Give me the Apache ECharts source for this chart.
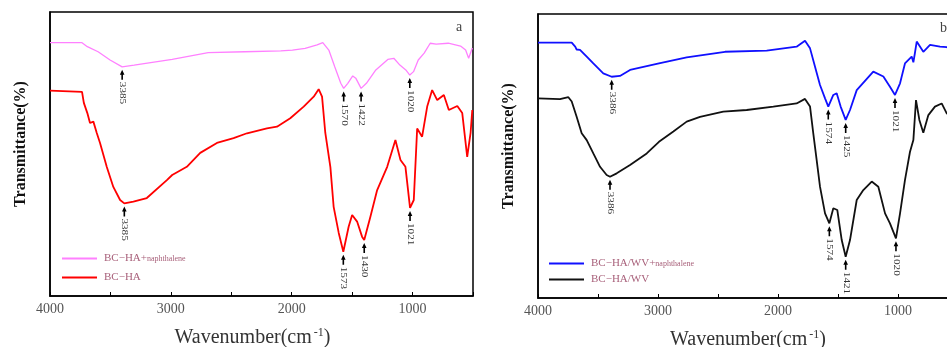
<!DOCTYPE html>
<html><head><meta charset="utf-8">
<script src="https://cdn.jsdelivr.net/npm/echarts@6/dist/echarts.min.js"></script>
<style>html,body{margin:0;padding:0;background:#fff}#c{width:947px;height:347px}</style>
</head><body><div id="c"></div>
<script>
const seriesNames = ['BC−HA+ naphthalene','BC−HA','BC−HA/WV+ naphthalene','BC−HA/WV'];
const xTickValues = [4000,3000,2000,1000];
const panelLetters = ['a','b'];

const pinkA = [[4000,89.2],[3735,89.2],[3724,89.4],[3691,87.8],[3602,86.0],[3503,83.1],[3403,80.7],[3304,81.3],[2989,83.3],[2691,85.7],[2390,86.0],[2091,86.3],[1994,86.6],[1889,87.2],[1790,88.4],[1743,89.2],[1693,86.6],[1644,80.7],[1594,74.9],[1570,73.1],[1536,74.9],[1495,77.5],[1470,76.7],[1426,73.1],[1382,74.9],[1304,79.6],[1205,83.3],[1155,83.7],[1105,81.3],[1056,79.6],[1023,77.8],[992,79.0],[953,83.1],[904,85.5],[854,89.0],[805,88.7],[705,89.0],[603,88.0],[561,86.6],[536,83.7],[506,87.3]];
const redA = [[4000,72.3],[3735,71.9],[3720,68],[3691,64.4],[3669,60.9],[3641,61.4],[3613,57.4],[3586,53.9],[3530,45.4],[3476,38.4],[3420,33.8],[3385,32.6],[3310,33.2],[3199,34.5],[3033,40.8],[2989,42.6],[2868,45.5],[2757,50.4],[2619,53.9],[2481,55.6],[2370,57.3],[2205,59.0],[2122,59.6],[2012,62.6],[1901,66.7],[1818,70.2],[1777,72.8],[1749,70.2],[1722,57.4],[1680,45.4],[1653,31.4],[1611,22.2],[1573,15.6],[1529,24.4],[1500,28.5],[1459,26.2],[1418,20.9],[1400,19.7],[1349,27.9],[1293,37.3],[1210,45.5],[1142,54.9],[1100,47.9],[1059,45.5],[1021,31],[990,33.8],[962,59],[921,56.1],[879,66.7],[838,72.5],[796,69],[741,70.8],[700,65.5],[630,66.9],[589,64.4],[548,49],[520,57.4],[506,65.5]];
const blueB = [[4000,89.9],[3719,89.9],[3690,88.5],[3678,87.5],[3650,87.4],[3594,85],[3539,82.6],[3456,79.1],[3386,77.9],[3317,78.2],[3233,80.3],[2992,82.6],[2761,84.7],[2442,86.7],[2094,87.1],[1845,88.5],[1775,90.6],[1733,87.9],[1692,81.5],[1650,75],[1608,70.3],[1581,67.4],[1539,71.5],[1511,72.1],[1478,67.4],[1436,62.7],[1400,66.2],[1344,73.2],[1206,79.7],[1122,78],[1067,74.4],[1025,71.5],[983,75.6],[942,82.6],[886,85],[872,83],[860,86],[844,90.3],[789,86.7],[733,89.1],[650,88.5],[594,88.3],[500,88]];
const blackB = [[4000,70.3],[3817,70],[3747,70.7],[3719,69.2],[3678,63.8],[3636,58],[3594,55.6],[3539,50.9],[3483,46.2],[3428,43.3],[3400,42.7],[3344,43.9],[3233,46.8],[3094,50.9],[2992,55],[2872,58.6],[2761,62.1],[2650,63.8],[2456,65.6],[2261,66.2],[2039,67.4],[1845,68.5],[1775,70.1],[1733,67.4],[1706,58],[1678,48.6],[1650,39.2],[1608,29.8],[1572,26.3],[1539,31.6],[1506,31],[1469,20.4],[1436,14.5],[1400,20.4],[1344,34.5],[1289,38],[1219,41],[1164,39.2],[1108,29.8],[1067,26.3],[1017,21],[983,29.8],[942,41.5],[900,51.5],[872,55.6],[850,69.7],[822,62.7],[789,58.2],[747,64.4],[692,67.4],[636,68.5],[594,65],[500,62]];

// peak annotations: [wavenumber, value, label]
const pinkPeaks = [[3403,80.7,'3385'],[1570,73.1,'1570'],[1426,73.1,'1422'],[1023,77.8,'1020']];
const redPeaks = [[3385,32.6,'3385'],[1573,15.6,'1573'],[1400,19.7,'1430'],[1021,31,'1021']];
const bluePeaks = [[3386,77.9,'3386'],[1581,67.4,'1574'],[1436,62.7,'1425'],[1025,71.5,'1021']];
const blackPeaks = [[3400,42.7,'3386'],[1572,26.3,'1574'],[1436,14.5,'1421'],[1017,21,'1020']];

const chart = echarts.init(document.getElementById('c'), null, {renderer:'canvas'});
const serif = 'Liberation Serif';
const legendText = '#a8607a';

function xAxisFor(i, namePad){
  return {
    gridIndex:i, type:'value', min:500, max:4000, interval:500, inverse:true,
    name:'Wavenumber(cm{sup|-1})', nameLocation:'middle', nameGap:31,
    nameTextStyle:{fontFamily:serif, fontSize:20, color:'#333', padding:namePad,
      rich:{sup:{fontFamily:serif, fontSize:12, verticalAlign:'top', padding:[0,0,10,2], color:'#333'}}},
    axisLine:{show:true, lineStyle:{color:'#000', width:1.5}},
    axisTick:{show:true, inside:true, length:4, lineStyle:{color:'#000', width:1}},
    axisLabel:{fontFamily:serif, fontSize:14, color:'#555', margin:6,
      formatter: v => xTickValues.indexOf(v) >= 0 ? String(v) : ''},
    splitLine:{show:false}
  };
}
function yAxisFor(i){
  return {
    gridIndex:i, type:'value', min:0, max:100,
    name:'Transmittance(%)', nameLocation:'middle', nameGap:21,
    nameTextStyle:{fontFamily:serif, fontSize:16, fontWeight:'bold', color:'#111', padding:[0,0,0,20]},
    axisLine:{show:true, lineStyle:{color:'#000', width:1.5}},
    axisTick:{show:false}, axisLabel:{show:false}, splitLine:{show:false}
  };
}
function legendFor(left, top, names, gap){
  return {
    left, top, orient:'vertical', itemWidth:35, itemHeight:10, itemGap:gap,
    data:names, icon:'path://M0,4L35,4L35,6L0,6Z',
    textStyle:{padding:[0,0,0,2], rich:{
      m:{fontFamily:serif, fontSize:11, color:legendText},
      s:{fontFamily:serif, fontSize:8, color:legendText}}},
    formatter: n => n.indexOf(' naphthalene') >= 0
      ? '{m|' + n.replace(' naphthalene','') + '}{s|naphthalene}'
      : '{m|' + n + '}'
  };
}
function lineSeries(name, data, color, width, idx){
  return {name, type:'line', data, xAxisIndex:idx, yAxisIndex:idx, showSymbol:false, symbol:'none',
    lineStyle:{color, width}, itemStyle:{color}, silent:true, animation:false};
}

chart.setOption({
  animation:false,
  backgroundColor:'#fff',
  grid:[
    {left:50, top:12, width:423, height:284, show:true, borderColor:'#000', borderWidth:1.5, containLabel:false, outerBoundsMode:'none'},
    {left:538, top:14, width:420, height:284, show:true, borderColor:'#000', borderWidth:1.5, containLabel:false, outerBoundsMode:'none'}
  ],
  xAxis:[xAxisFor(0, [0,18,0,0]), xAxisFor(1, [0,0,0,0])],
  yAxis:[yAxisFor(0), yAxisFor(1)],
  legend:[legendFor(57, 248, [seriesNames[0], seriesNames[1]], 8), legendFor(544, 253, [seriesNames[2], seriesNames[3]], 5)],
  series:[
    lineSeries(seriesNames[0], pinkA, '#ff80ff', 1.3, 0),
    lineSeries(seriesNames[1], redA, '#ff0000', 1.8, 0),
    lineSeries(seriesNames[2], blueB, '#1010ff', 1.8, 1),
    lineSeries(seriesNames[3], blackB, '#111111', 1.8, 1)
  ]
});

const graphics = [];
function annotate(gridIndex, peaks){
  peaks.forEach(([wn, val, txt]) => {
    const [x, y] = chart.convertToPixel({gridIndex}, [wn, val]);
    graphics.push({type:'polygon', silent:true, shape:{points:[[x,y+3],[x-2.3,y+8],[x-0.8,y+8],[x-0.8,y+13],[x+0.8,y+13],[x+0.8,y+8],[x+2.3,y+8]]}, style:{fill:'#000'}});
    graphics.push({type:'text', silent:true, x:x, y:y+15, rotation:-Math.PI/2, scaleX:1.4,
      style:{text:txt, fill:'#333', font:'8px "Liberation Serif"', align:'left', verticalAlign:'middle'}});
  });
}
annotate(0, pinkPeaks); annotate(0, redPeaks); annotate(1, bluePeaks); annotate(1, blackPeaks);
graphics.push({type:'text', x:456, y:20, style:{text:panelLetters[0], fill:'#444', font:'14px "Liberation Serif"'}});
graphics.push({type:'text', x:940, y:21, style:{text:panelLetters[1], fill:'#444', font:'14px "Liberation Serif"'}});
chart.setOption({graphic:graphics});
</script></body></html>
